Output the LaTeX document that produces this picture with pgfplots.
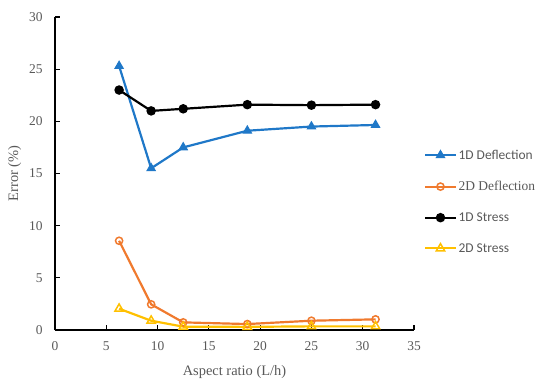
\documentclass[border=0pt]{standalone}
\usepackage{pgfplots}
\pgfplotsset{compat=1.18}
\usepackage{fontspec}
\setmainfont{Liberation Serif}
\newfontfamily\tnr{Liberation Serif}
\newfontfamily\calfont{Carlito}
\definecolor{c1}{HTML}{1F78C8}
\definecolor{c2}{HTML}{F07A2E}
\definecolor{c3}{HTML}{000000}
\definecolor{c4}{HTML}{FFC000}
\definecolor{txt}{HTML}{595959}
\begin{document}
\begin{tikzpicture}
\begin{axis}[
 scale only axis, width=359bp, height=313bp,
 xmin=0,xmax=35,ymin=0,ymax=30,
 xtick={0,5,...,35}, ytick={0,5,...,30},
 axis x line*=bottom, axis y line*=left,
 axis line style={black, line width=1.3pt},
 tick style={black, line width=1.1pt}, major tick length=5bp,
 tick align=inside,
 /pgf/number format/assume math mode=true,
 tick label style={font=\tnr\fontsize{13.5}{15}\selectfont, text=txt},
 xticklabel style={yshift=-8bp},
 yticklabel style={xshift=-9bp},
 xlabel={Aspect ratio (L/h)}, ylabel={Error (\%)},
 label style={font=\tnr\fontsize{14.5}{16}\selectfont, text=txt},
 xlabel style={yshift=-8bp},
 ylabel style={yshift=1bp},
 legend style={draw=none, at={(1.02,0.41)}, anchor=west, font=\fontsize{13.5}{15}\selectfont, text=txt, row sep=16.5bp},
 legend cell align=left,
 legend image code/.code={\draw[mark repeat=2,mark phase=2] plot coordinates {(0cm,0cm)(0.53cm,0cm)(1.06cm,0cm)};},
 every axis plot/.append style={line width=2.2pt},
]
\addplot[c1, mark=triangle*, mark size=4.8bp, mark options={fill=c1, line width=1pt}] coordinates {(6.25,25.3)(9.375,15.5)(12.5,17.5)(18.75,19.1)(25,19.5)(31.25,19.65)};
\addlegendentry{{\calfont 1D Deflection}}
\addplot[c2, mark=o, mark size=3.6bp, mark options={fill=white, line width=1.5pt}] coordinates {(6.25,8.55)(9.375,2.46)(12.5,0.73)(18.75,0.57)(25,0.89)(31.25,1.02)};
\addlegendentry{{\tnr 2D Deflection}}
\addplot[c3, mark=*, mark size=3.6bp, mark options={fill=black}] coordinates {(6.25,23.0)(9.375,21.0)(12.5,21.2)(18.75,21.6)(25,21.55)(31.25,21.6)};
\addlegendentry{{\calfont 1D Stress}}
\addplot[c4, mark=triangle, mark size=4.8bp, mark options={fill=white, line width=1.5pt}] coordinates {(6.25,2.04)(9.375,0.89)(12.5,0.32)(18.75,0.3)(25,0.35)(31.25,0.35)};
\addlegendentry{{\calfont 2D Stress}}
\end{axis}
\path ([xshift=-55bp,yshift=-59bp]current axis.south west) rectangle ([xshift=136bp,yshift=17bp]current axis.north east);
\end{tikzpicture}
\end{document}
